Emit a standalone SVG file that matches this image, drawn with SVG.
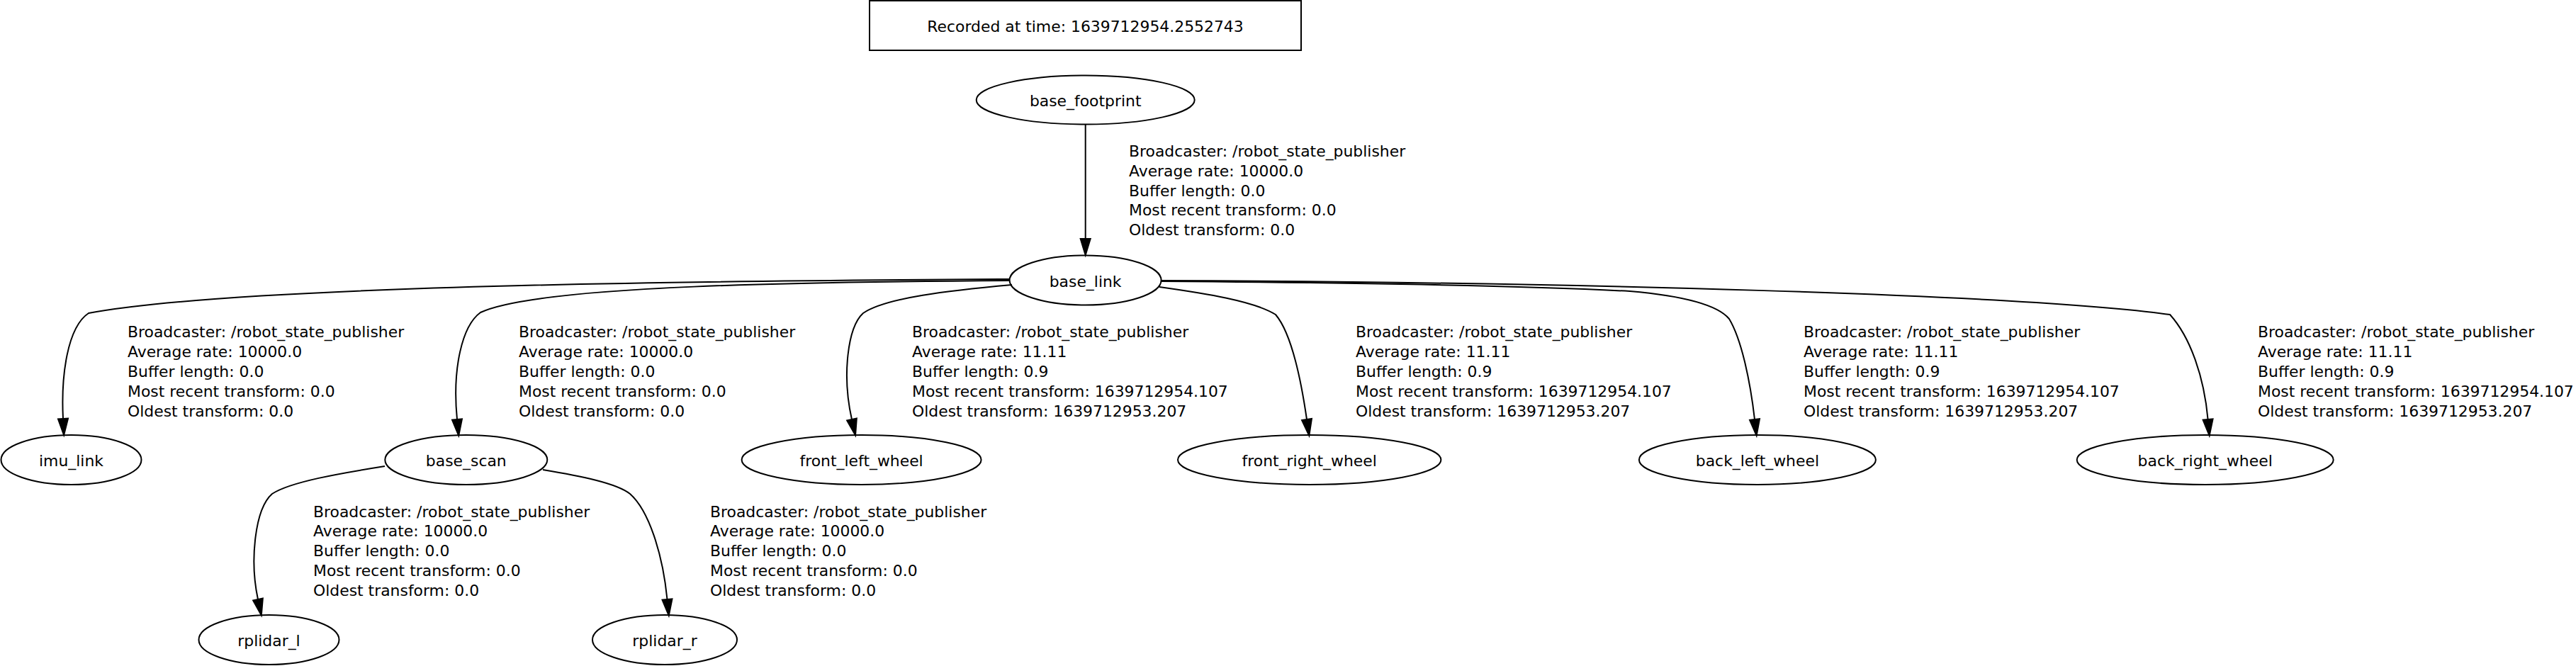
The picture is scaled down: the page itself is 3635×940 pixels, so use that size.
<svg xmlns="http://www.w3.org/2000/svg" width="3635" height="940" viewBox="0 0 3635 940">
<style>
text{font-family:"DejaVu Sans","Liberation Sans",sans-serif;font-size:21.9px;fill:#000}
.nl{text-anchor:middle}
.node ellipse,.node rect{fill:none;stroke:#000;stroke-width:2}
.edge path{fill:none;stroke:#000;stroke-width:2;marker-end:url(#arr)}
</style>
<defs>
<marker id="arr" markerUnits="userSpaceOnUse" markerWidth="30" markerHeight="20" refX="0" refY="0" orient="auto" overflow="visible" viewBox="0 -10 30 20">
<path d="M0,-7 L23,0 L0,7 Z" fill="#000" stroke="#000" stroke-width="2"/>
</marker>
</defs>
<rect width="3635" height="940" fill="#fff"/>
<g id="title" class="node"><rect x="1227" y="1" width="609" height="70"/><text class="nl" x="1531.5" y="45">Recorded at time: 1639712954.2552743</text></g>
<g id="connectors">
<g class="edge" id="e_footprint_link"><path d="M1531.7,175.5 L1531.7,337"/>
<text x="1593" y="221"><tspan x="1593">Broadcaster: /robot_state_publisher</tspan><tspan x="1593" dy="27.8">Average rate: 10000.0</tspan><tspan x="1593" dy="27.8">Buffer length: 0.0</tspan><tspan x="1593" dy="27.8">Most recent transform: 0.0</tspan><tspan x="1593" dy="27.8">Oldest transform: 0.0</tspan></text></g>
<g class="edge" id="e_link_imu"><path d="M1425,394 C1100,396 350,400 125,442 C95,462 86,530 89,591"/>
<text y="476"><tspan x="180">Broadcaster: /robot_state_publisher</tspan><tspan x="180" dy="27.9">Average rate: 10000.0</tspan><tspan x="180" dy="27.9">Buffer length: 0.0</tspan><tspan x="180" dy="27.9">Most recent transform: 0.0</tspan><tspan x="180" dy="27.9">Oldest transform: 0.0</tspan></text></g>
<g class="edge" id="e_link_scan"><path d="M1425,396 C1150,398 760,402 678,441 C652,460 638,520 645,592"/>
<text y="476"><tspan x="732">Broadcaster: /robot_state_publisher</tspan><tspan x="732" dy="27.9">Average rate: 10000.0</tspan><tspan x="732" dy="27.9">Buffer length: 0.0</tspan><tspan x="732" dy="27.9">Most recent transform: 0.0</tspan><tspan x="732" dy="27.9">Oldest transform: 0.0</tspan></text></g>
<g class="edge" id="e_link_flw"><path d="M1428,402 C1340,410 1250,420 1218,442 C1196,462 1188,530 1202,592"/>
<text y="476"><tspan x="1287">Broadcaster: /robot_state_publisher</tspan><tspan x="1287" dy="27.9">Average rate: 11.11</tspan><tspan x="1287" dy="27.9">Buffer length: 0.9</tspan><tspan x="1287" dy="27.9">Most recent transform: 1639712954.107</tspan><tspan x="1287" dy="27.9">Oldest transform: 1639712953.207</tspan></text></g>
<g class="edge" id="e_link_frw"><path d="M1636,405 C1700,414 1770,425 1800,444 C1822,470 1835,530 1844,592"/>
<text y="476"><tspan x="1913">Broadcaster: /robot_state_publisher</tspan><tspan x="1913" dy="27.9">Average rate: 11.11</tspan><tspan x="1913" dy="27.9">Buffer length: 0.9</tspan><tspan x="1913" dy="27.9">Most recent transform: 1639712954.107</tspan><tspan x="1913" dy="27.9">Oldest transform: 1639712953.207</tspan></text></g>
<g class="edge" id="e_link_blw"><path d="M1638,397 C1900,399 2150,403 2300,411 C2380,418 2425,432 2440,450 C2458,480 2470,540 2476,592"/>
<text y="476"><tspan x="2545">Broadcaster: /robot_state_publisher</tspan><tspan x="2545" dy="27.9">Average rate: 11.11</tspan><tspan x="2545" dy="27.9">Buffer length: 0.9</tspan><tspan x="2545" dy="27.9">Most recent transform: 1639712954.107</tspan><tspan x="2545" dy="27.9">Oldest transform: 1639712953.207</tspan></text></g>
<g class="edge" id="e_link_brw"><path d="M1638,396 C2200,398 2850,415 3062,444 C3090,475 3110,530 3115.6,592"/>
<text y="476"><tspan x="3186">Broadcaster: /robot_state_publisher</tspan><tspan x="3186" dy="27.9">Average rate: 11.11</tspan><tspan x="3186" dy="27.9">Buffer length: 0.9</tspan><tspan x="3186" dy="27.9">Most recent transform: 1639712954.107</tspan><tspan x="3186" dy="27.9">Oldest transform: 1639712953.207</tspan></text></g>
<g class="edge" id="e_scan_l"><path d="M543,658 C480,668 410,680 384,697 C360,718 352,790 364,846"/>
<text y="729.5"><tspan x="442">Broadcaster: /robot_state_publisher</tspan><tspan x="442" dy="27.85">Average rate: 10000.0</tspan><tspan x="442" dy="27.85">Buffer length: 0.0</tspan><tspan x="442" dy="27.85">Most recent transform: 0.0</tspan><tspan x="442" dy="27.85">Oldest transform: 0.0</tspan></text></g>
<g class="edge" id="e_scan_r"><path d="M766,663 C820,672 870,682 889,697 C915,720 935,780 941.5,846"/>
<text y="729.5"><tspan x="1002">Broadcaster: /robot_state_publisher</tspan><tspan x="1002" dy="27.85">Average rate: 10000.0</tspan><tspan x="1002" dy="27.85">Buffer length: 0.0</tspan><tspan x="1002" dy="27.85">Most recent transform: 0.0</tspan><tspan x="1002" dy="27.85">Oldest transform: 0.0</tspan></text></g>
</g>
<g id="base_footprint" class="node"><ellipse cx="1531.7" cy="141" rx="154" ry="34.5"/><text class="nl" x="1531.7" y="150">base_footprint</text></g>
<g id="base_link" class="node"><ellipse cx="1531.6" cy="395.5" rx="107" ry="35"/><text class="nl" x="1531.6" y="404.5">base_link</text></g>
<g id="imu_link" class="node"><ellipse cx="100.5" cy="649" rx="99" ry="35"/><text class="nl" x="100.5" y="658">imu_link</text></g>
<g id="base_scan" class="node"><ellipse cx="657.8" cy="649" rx="114.5" ry="35"/><text class="nl" x="657.8" y="658">base_scan</text></g>
<g id="front_left_wheel" class="node"><ellipse cx="1215.6" cy="649" rx="169" ry="35"/><text class="nl" x="1215.6" y="658">front_left_wheel</text></g>
<g id="front_right_wheel" class="node"><ellipse cx="1847.7" cy="649" rx="185.7" ry="35"/><text class="nl" x="1847.7" y="658">front_right_wheel</text></g>
<g id="back_left_wheel" class="node"><ellipse cx="2479.9" cy="649" rx="167" ry="35"/><text class="nl" x="2479.9" y="658">back_left_wheel</text></g>
<g id="back_right_wheel" class="node"><ellipse cx="3111.7" cy="649" rx="181" ry="35"/><text class="nl" x="3111.7" y="658">back_right_wheel</text></g>
<g id="rplidar_l" class="node"><ellipse cx="379.5" cy="903" rx="99" ry="35"/><text class="nl" x="379.5" y="912">rplidar_l</text></g>
<g id="rplidar_r" class="node"><ellipse cx="938" cy="903" rx="102" ry="35"/><text class="nl" x="938" y="912">rplidar_r</text></g>
</svg>
